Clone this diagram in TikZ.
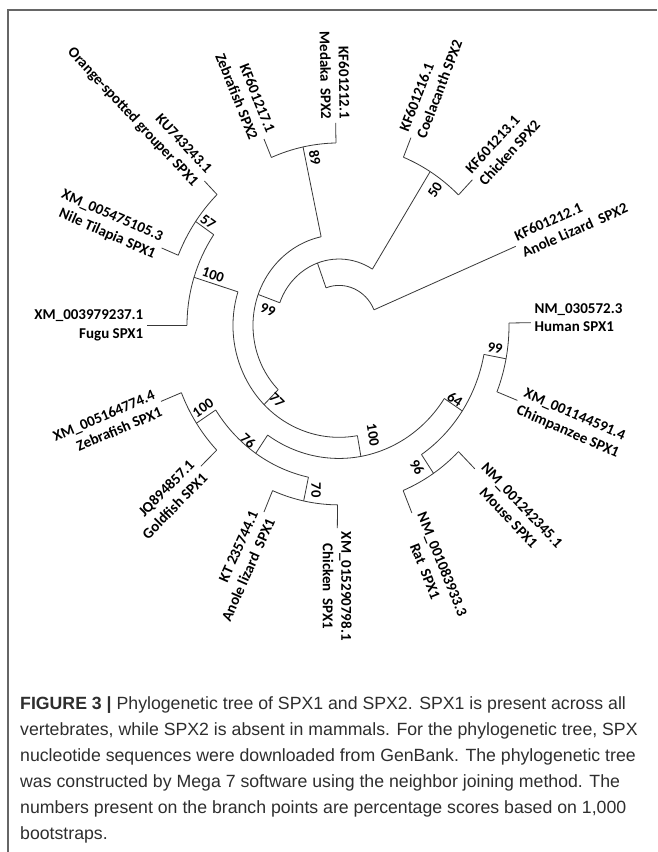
\documentclass[tikz,border=0pt]{standalone}
\usepackage{fontspec}
\newfontfamily\labfont{Carlito}
\newfontfamily\capfont{Liberation Sans}
\begin{document}
\begin{tikzpicture}[x=1pt,y=1pt,
  br/.style={draw=black!78, line width=0.8pt},
  leafL/.style={font=\labfont\bfseries\fontsize{15}{18.5}\selectfont, align=right, anchor=east, inner sep=1.5pt},
  leafR/.style={font=\labfont\bfseries\fontsize{15}{18.5}\selectfont, align=left, anchor=west, inner sep=1.5pt},
  boot/.style={font=\labfont\bfseries\fontsize{14.5}{17}\selectfont, inner sep=0pt},
  capline/.style={font=\capfont\fontsize{17.7}{20}\selectfont, anchor=base west, inner sep=0pt, text=black!82}
]
\useasboundingbox (0,0) rectangle (657,-852);
\fill[white] (0,0) rectangle (657,-852);
\draw[black!60, line width=1.3pt] (8,-852) -- (8,-10) -- (657,-10);

\begin{scope}[shift={(339,-325.5)}, yscale=1.055]
% root
\coordinate (r1) at (23:38);
\coordinate (r2) at (110:38);
\draw[br] (r1) arc[start angle=23,end angle=110,radius=38];
\coordinate (tAnoleB) at (23:192);
\draw[br] (r1) -- (tAnoleB);
% node B
\coordinate (nB) at (110:63);
\draw[br] (r2) -- (nB);
\coordinate (B1) at (58:63);
\coordinate (B2) at (160:63);
\draw[br] (B1) arc[start angle=58,end angle=160,radius=63];
% node 50
\coordinate (n50) at (58:172);
\draw[br] (B1) -- (n50);
\coordinate (c50a) at (46:172);
\coordinate (c50b) at (68:172);
\draw[br] (c50a) arc[start angle=46,end angle=68,radius=172];
\coordinate (tChickB) at (46:192);
\coordinate (tCoel) at (68:192);
\draw[br] (c50a) -- (tChickB);
\draw[br] (c50b) -- (tCoel);
% node 99
\coordinate (n99) at (160:86);
\draw[br] (B2) -- (n99);
\coordinate (c99a) at (102:86);
\coordinate (c99b) at (225:86);
\draw[br] (c99a) arc[start angle=102,end angle=225,radius=86];
% node 89
\coordinate (n89) at (102:173);
\draw[br] (c99a) -- (n89);
\coordinate (c89a) at (91:173);
\coordinate (c89b) at (113:173);
\draw[br] (c89a) arc[start angle=91,end angle=113,radius=173];
\coordinate (tMedaka) at (91:192);
\coordinate (tZebB) at (113:192);
\draw[br] (c89a) -- (tMedaka);
\draw[br] (c89b) -- (tZebB);
% node 77
\coordinate (n77) at (225:106);
\draw[br] (c99b) -- (n77);
\coordinate (c77a) at (162.5:106);
\coordinate (c77b) at (280:106);
\draw[br] (c77a) arc[start angle=162.5,end angle=280,radius=106];
% node 100 (fugu clade)
\coordinate (n100f) at (162.5:152);
\draw[br] (c77a) -- (n100f);
\coordinate (cFa) at (145.5:152);
\coordinate (cFb) at (180:152);
\draw[br] (cFa) arc[start angle=145.5,end angle=180,radius=152];
\coordinate (tFugu) at (180:192);
\draw[br] (cFb) -- (tFugu);
% node 57
\coordinate (n57) at (145.5:174);
\draw[br] (cFa) -- (n57);
\coordinate (c57a) at (134.5:174);
\coordinate (c57b) at (157.5:174);
\draw[br] (c57a) arc[start angle=134.5,end angle=157.5,radius=174];
\coordinate (tGrouper) at (134.5:192);
\coordinate (tTilapia) at (157.5:192);
\draw[br] (c57a) -- (tGrouper);
\draw[br] (c57b) -- (tTilapia);
% node 100 (bottom)
\coordinate (n100b) at (280:126);
\draw[br] (c77b) -- (n100b);
\coordinate (cBa) at (235.5:126);
\coordinate (cBb) at (326.7:126);
\draw[br] (cBa) arc[start angle=235.5,end angle=326.7,radius=126];
% node 76
\coordinate (n76) at (235.5:147);
\draw[br] (cBa) -- (n76);
\coordinate (c76a) at (213:147);
\coordinate (c76b) at (258:147);
\draw[br] (c76a) arc[start angle=213,end angle=258,radius=147];
% node 100 (zebrafish/goldfish)
\coordinate (n100z) at (213:170);
\draw[br] (c76a) -- (n100z);
\coordinate (cZa) at (202:170);
\coordinate (cZb) at (224:170);
\draw[br] (cZa) arc[start angle=202,end angle=224,radius=170];
\coordinate (tZebA) at (202:192);
\coordinate (tGold) at (224:192);
\draw[br] (cZa) -- (tZebA);
\draw[br] (cZb) -- (tGold);
% node 70
\coordinate (n70) at (258:170);
\draw[br] (c76b) -- (n70);
\coordinate (c70a) at (247:170);
\coordinate (c70b) at (269.5:170);
\draw[br] (c70a) arc[start angle=247,end angle=269.5,radius=170];
\coordinate (tAnoleA) at (247:192);
\coordinate (tChickA) at (269.5:192);
\draw[br] (c70a) -- (tAnoleA);
\draw[br] (c70b) -- (tChickA);
% node 64
\coordinate (n64) at (326.7:147.5);
\draw[br] (cBb) -- (n64);
\coordinate (c64a) at (304:147.5);
\coordinate (c64b) at (349.3:147.5);
\draw[br] (c64a) arc[start angle=304,end angle=349.3,radius=147.5];
% node 96
\coordinate (n96) at (304:169);
\draw[br] (c64a) -- (n96);
\coordinate (c96a) at (292.3:169);
\coordinate (c96b) at (315:169);
\draw[br] (c96a) arc[start angle=292.3,end angle=315,radius=169];
\coordinate (tRat) at (292.3:192);
\coordinate (tMouse) at (315:192);
\draw[br] (c96a) -- (tRat);
\draw[br] (c96b) -- (tMouse);
% node 99 (mammals)
\coordinate (n99m) at (349.3:170);
\draw[br] (c64b) -- (n99m);
\coordinate (cHa) at (338.3:170);
\coordinate (cHb) at (360.8:170);
\draw[br] (cHa) arc[start angle=338.3,end angle=360.8,radius=170];
\coordinate (tChimp) at (338.3:192);
\coordinate (tHuman) at (360.8:192);
\draw[br] (cHa) -- (tChimp);
\draw[br] (cHb) -- (tHuman);

% leaf labels
\node[leafR, rotate=24] (LAnoleB) at (23:194) {KF601212.1\\Anole Lizard~~SPX2};
\node[leafR, rotate=69] (LCoel) at (68:194) {KF601216.1\\Coelacanth SPX2};
\node[leafR, rotate=47.5] (LChickB) at (46:194) {KF601213.1\\Chicken SPX2};
\node[leafL, rotate=-89] (LMedaka) at (91:194) {KF601212.1\\Medaka~~SPX2};
\node[leafL, rotate=-68] (LZebB) at (113:194) {KF601217.1\\Zebrafish SPX2};
\node[leafL, rotate=-47] (LGrouper) at (134.5:194) {KU743243.1\\Orange-spotted grouper SPX1};
\node[leafL, rotate=-23.6] (LTilapia) at (157.5:194) {XM\_005475105.3\\Nile Tilapia SPX1};
\node[leafL, rotate=0] (LFugu) at (180:194) {XM\_003979237.1\\Fugu SPX1};
\node[leafL, rotate=23] (LZebA) at (202:194) {XM\_005164774.4\\Zebrafish SPX1};
\node[leafL, rotate=45.5] (LGold) at (224:194) {JQ894857.1\\Goldfish SPX1};
\node[leafL, rotate=66] (LAnoleA) at (247:194) {KT 235744.1\\Anole lizard~~SPX1};
\node[leafR, align=center, rotate=-90] (LChickA) at (269.5:194) {XM\_015290798.1\\Chicken~~SPX1};
\node[leafR, align=center, rotate=-68] (LRat) at (292.3:194) {NM\_001083933.3\\Rat~~SPX1};
\node[leafR, align=center, rotate=-46.5] (LMouse) at (315:194) {NM\_001242345.1\\Mouse SPX1};
\node[leafR, rotate=-23.5] (LChimp) at (338.3:194) {XM\_001144591.4\\Chimpanzee SPX1};
\node[leafR, rotate=0, yshift=5pt] (LHuman) at (360.8:194) {NM\_030572.3\\Human SPX1};
\end{scope}

% bootstrap values
\node[boot, rotate=-20] (b99) at (268,-310) {99};
\node[boot, rotate=-78.6] (b89) at (315,-158) {89};
\node[boot, rotate=58.4] (b50) at (435,-190) {50};
\node[boot, rotate=-18.4] (b100f) at (213,-275) {100};
\node[boot, rotate=-35.9] (b57) at (208,-222) {57};
\node[boot, rotate=-45] (b77) at (277,-400) {77};
\node[boot, rotate=34.4] (b100z) at (203,-408) {100};
\node[boot, rotate=-42] (b76) at (248,-441) {76};
\node[boot, rotate=-90] (b70) at (316,-490) {70};
\node[boot, rotate=-80.5] (b100b) at (373,-435) {100};
\node[boot, rotate=-60] (b96) at (417,-467) {96};
\node[boot, rotate=-33] (b64) at (455,-399) {64};
\node[boot, rotate=-11.3] (b99m) at (495,-348) {99};

% caption
\node[capline] (cap1) at (20,-709) {\textbf{FIGURE 3 |} Phylogenetic tree of SPX1 and SPX2. SPX1 is present across all};
\node[capline] (cap2) at (20,-735) {vertebrates, while SPX2 is absent in mammals. For the phylogenetic tree, SPX};
\node[capline] (cap3) at (20,-761) {nucleotide sequences were downloaded from GenBank. The phylogenetic tree};
\node[capline] (cap4) at (20,-787) {was constructed by Mega 7 software using the neighbor joining method. The};
\node[capline] (cap5) at (20,-813) {numbers present on the branch points are percentage scores based on 1,000};
\node[capline] (cap6) at (20,-839) {bootstraps.};
\end{tikzpicture}
\end{document}
